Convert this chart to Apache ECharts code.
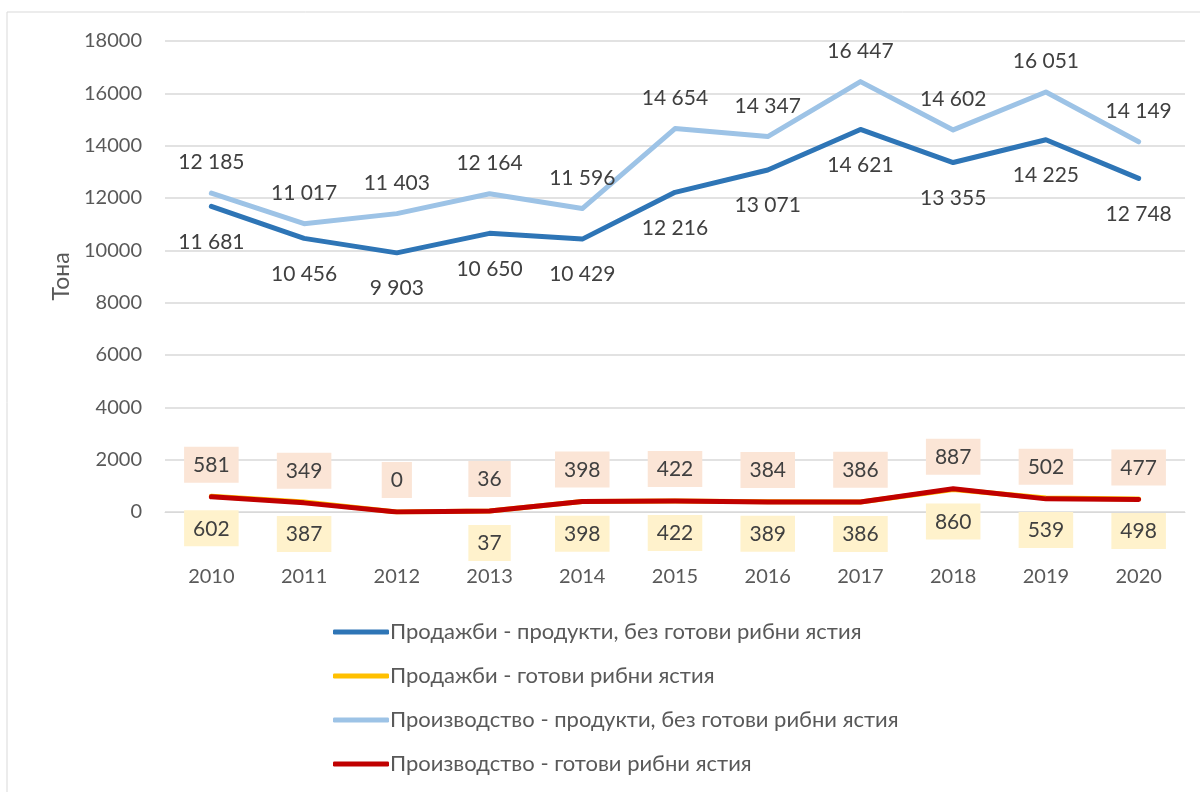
<!DOCTYPE html>
<html lang="bg">
<head>
    <meta charset="UTF-8">
    <title>Продажби и производство</title>
    <script src="https://cdn.jsdelivr.net/npm/echarts@6/dist/echarts.min.js"></script>
    <style>
        html, body { margin: 0; padding: 0; background: #fff; }
        #chart { width: 1200px; height: 792px; }
    </style>
</head>
<body>
<div id="chart"></div>
<script>
    // данни
    var years = ['2010', '2011', '2012', '2013', '2014', '2015', '2016', '2017', '2018', '2019', '2020'];
    var salesProducts = [11681, 10456, 9903, 10650, 10429, 12216, 13071, 14621, 13355, 14225, 12748];
    var salesDishes = [602, 387, 0, 37, 398, 422, 389, 386, 860, 539, 498];
    var prodProducts = [12185, 11017, 11403, 12164, 11596, 14654, 14347, 16447, 14602, 16051, 14149];
    var prodDishes = [581, 349, 0, 36, 398, 422, 384, 386, 887, 502, 477];
    var yTicks = [0, 2000, 4000, 6000, 8000, 10000, 12000, 14000, 16000, 18000];

    var font = 'Lato, "Open Sans", sans-serif';

    function fmt(v) {
        return String(v).replace(/\B(?=(\d{3})+(?!\d))/g, ' ');
    }

    var chart = echarts.init(document.getElementById('chart'));

    function lineSeries(name, data, color, pos, bg, hideZero) {
        // при продажбите на готови ястия няма етикет за нулата
        var items = data.map(function (v) {
            if (hideZero && v === 0) return { value: v, label: { show: false } };
            return v;
        });
        return {
            name: name,
            type: 'line',
            data: items,
            symbol: 'circle',
            symbolSize: 0.1,
            showSymbol: true,
            lineStyle: { color: color, width: 5, cap: 'round', join: 'round' },
            itemStyle: { color: color },
            label: {
                show: true,
                position: pos,
                distance: bg ? 14 : (pos === 'bottom' ? 25 : 20),
                color: '#404040',
                fontFamily: font,
                fontSize: 21,
                backgroundColor: bg || 'transparent',
                padding: bg ? [8, 9, 7, 9] : 0,
                formatter: function (p) { return fmt(p.value); }
            },
            labelLayout: { hideOverlap: false },
            emphasis: { disabled: true },
            animation: false
        };
    }

    chart.setOption({
        backgroundColor: '#fff',
        animation: false,
        graphic: [{
            type: 'rect',
            shape: { x: 7, y: 12, width: 1200, height: 800 },
            style: { fill: 'none', stroke: '#d9d9d9', lineWidth: 1 },
            silent: true
        }],
        grid: { left: 165, right: 15, top: 41, height: 471 },
        legend: {
            orient: 'vertical',
            left: 328,
            top: 616,
            itemGap: 22,
            itemWidth: 56,
            itemHeight: 5,
            icon: 'roundRect',
            textStyle: { color: '#595959', fontFamily: font, fontSize: 22, padding: [0, 0, 0, -4] },
            data: [
                'Продажби - продукти, без готови рибни ястия',
                'Продажби - готови рибни ястия',
                'Производство - продукти, без готови рибни ястия',
                'Производство - готови рибни ястия'
            ]
        },
        xAxis: {
            type: 'category',
            data: years,
            boundaryGap: true,
            axisLine: { lineStyle: { color: '#d9d9d9', width: 1 } },
            axisTick: { show: false },
            axisLabel: { color: '#595959', fontFamily: font, fontSize: 20, margin: 55 }
        },
        yAxis: {
            type: 'value',
            min: yTicks[0],
            max: yTicks[yTicks.length - 1],
            interval: 2000,
            name: 'Тона',
            nameLocation: 'middle',
            nameGap: 92,
            nameRotate: 90,
            nameTextStyle: { color: '#595959', fontFamily: font, fontSize: 23, fontWeight: 'normal' },
            axisLine: { show: false },
            axisTick: { show: false },
            splitLine: { lineStyle: { color: '#d9d9d9', width: 1.5 } },
            axisLabel: {
                color: '#595959', fontFamily: font, fontSize: 20, margin: 23,
                formatter: function (v) { return String(v); }
            }
        },
        series: [
            lineSeries('Продажби - продукти, без готови рибни ястия', salesProducts, '#2e75b6', 'bottom'),
            lineSeries('Продажби - готови рибни ястия', salesDishes, '#ffc000', 'bottom', '#fff2cc', true),
            lineSeries('Производство - продукти, без готови рибни ястия', prodProducts, '#9dc3e6', 'top'),
            lineSeries('Производство - готови рибни ястия', prodDishes, '#c00000', 'top', '#fbe5d6')
        ]
    });
</script>
</body>
</html>
